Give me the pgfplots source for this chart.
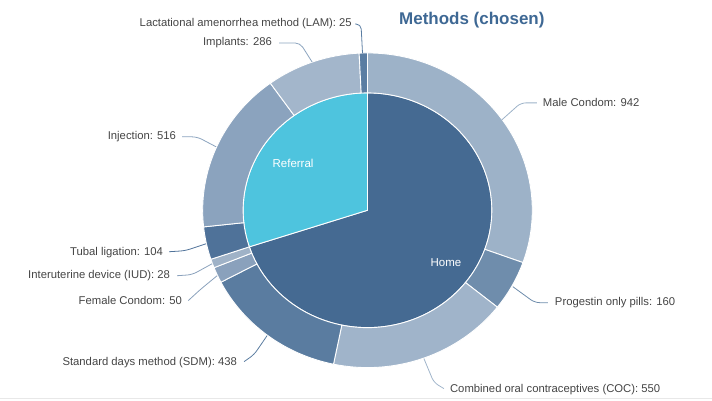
\documentclass[border=0pt]{standalone}
\usepackage{pgfplots}
\pgfplotsset{compat=1.18}
\usepackage{fontspec}
\setmainfont{Liberation Sans}

\definecolor{home}{RGB}{69,106,146}
\definecolor{referral}{RGB}{78,196,222}
\definecolor{cMC}{RGB}{157,178,200}
\definecolor{cPOP}{RGB}{111,141,172}
\definecolor{cCOC}{RGB}{160,180,202}
\definecolor{cSDM}{RGB}{90,124,160}
\definecolor{cFC}{RGB}{138,161,188}
\definecolor{cIUD}{RGB}{159,178,199}
\definecolor{cTL}{RGB}{79,114,153}
\definecolor{cINJ}{RGB}{139,163,190}
\definecolor{cIMP}{RGB}{163,182,203}
\definecolor{cLAM}{RGB}{90,125,162}
\definecolor{lblgray}{RGB}{68,68,68}
\definecolor{titleblue}{RGB}{62,104,148}

% geometry (pixel-like axis units, y downwards)
\def\cx{367.5}\def\cy{210.5}
\def\rxo{165}\def\ryo{157.5}
\def\rxi{124.5}\def\ryi{117.5}
\def\total{3099}

\def\pcum{0}
\newcommand{\pieseg}[2]{% value, colour
  \pgfmathsetmacro\ta{90-(\pcum/\total)*360}%
  \pgfmathsetmacro\newcum{\pcum+#1}%
  \xdef\pcum{\newcum}%
  \pgfmathsetmacro\tb{90-(\pcum/\total)*360}%
  \pgfmathsetmacro\xa{\cx+\rxi*cos(\ta)}%
  \pgfmathsetmacro\ya{\cy-\ryi*sin(\ta)}%
  \edef\temp{\noexpand\filldraw[fill=#2,draw=white,line width=0.9pt,line join=round]
    (axis cs:\cx,\cy) -- (axis cs:\xa,\ya)
    arc[start angle=\ta,end angle=\tb,x radius=\rxi pt,y radius=\ryi pt] -- cycle;}%
  \temp}

\def\rcum{0}
\newcommand{\ringseg}[2]{% value, colour
  \pgfmathsetmacro\ta{90-(\rcum/\total)*360}%
  \pgfmathsetmacro\newcum{\rcum+#1}%
  \xdef\rcum{\newcum}%
  \pgfmathsetmacro\tb{90-(\rcum/\total)*360}%
  \pgfmathsetmacro\xa{\cx+\rxo*cos(\ta)}%
  \pgfmathsetmacro\ya{\cy-\ryo*sin(\ta)}%
  \pgfmathsetmacro\xb{\cx+\rxi*cos(\tb)}%
  \pgfmathsetmacro\yb{\cy-\ryi*sin(\tb)}%
  \edef\temp{\noexpand\filldraw[fill=#2,draw=white,line width=0.9pt,line join=round]
    (axis cs:\xa,\ya)
    arc[start angle=\ta,end angle=\tb,x radius=\rxo pt,y radius=\ryo pt]
    -- (axis cs:\xb,\yb)
    arc[start angle=\tb,end angle=\ta,x radius=\rxi pt,y radius=\ryi pt] -- cycle;}%
  \temp}

\begin{document}
\begin{tikzpicture}
\begin{axis}[
  scale only axis, width=712pt, height=401pt,
  xmin=0, xmax=712, ymin=0, ymax=401, y dir=reverse,
  hide axis, clip=false,
]
\path (rel axis cs:0,0) rectangle (rel axis cs:1,1);
\draw[color={rgb,255:red,232;green,232;blue,232}, line width=0.8pt] (axis cs:0,399) -- (axis cs:712,399);

% inner pie: Home, Referral
\pieseg{2168}{home}
\pieseg{931}{referral}

% outer ring
\ringseg{942}{cMC}
\ringseg{160}{cPOP}
\ringseg{550}{cCOC}
\ringseg{438}{cSDM}
\ringseg{50}{cFC}
\ringseg{28}{cIUD}
\ringseg{104}{cTL}
\ringseg{516}{cINJ}
\ringseg{286}{cIMP}
\ringseg{25}{cLAM}

% connectors
\begin{scope}[line width=0.8pt, rounded corners=5pt]
\draw[cLAM] (axis cs:355,24) -- (axis cs:361,24) -- (axis cs:362.5,53);
\draw[cINJ] (axis cs:279,43) -- (axis cs:300,43) -- (axis cs:312,62);
\draw[cMC] (axis cs:537,103) -- (axis cs:521,103) -- (axis cs:502,120);
\draw[cINJ] (axis cs:182,137) -- (axis cs:197,137) -- (axis cs:216,147);
\draw[cTL] (axis cs:169,252) -- (axis cs:185,251) -- (axis cs:206,244);
\draw[cFC] (axis cs:177,276) -- (axis cs:192,275) -- (axis cs:212,264);
\draw[cFC] (axis cs:188,301) -- (axis cs:200,290) -- (axis cs:217,276);
\draw[cSDM] (axis cs:244,362) -- (axis cs:254,355) -- (axis cs:267,336);
\draw[cPOP] (axis cs:548,303) -- (axis cs:535,303) -- (axis cs:513,287);
\draw[cCOC] (axis cs:444,389) -- (axis cs:434,383) -- (axis cs:424,359);
\end{scope}

% labels
\begin{scope}[every node/.style={text=lblgray, inner sep=0pt, font=\fontsize{11.3}{13}\selectfont}]
\node[anchor=east] at (axis cs:352,24) {Lactational amenorrhea method (LAM): 25};
\node[anchor=east] at (axis cs:272,43) {Implants: 286};
\node[anchor=west] at (axis cs:543,103) {Male Condom: 942};
\node[anchor=east] at (axis cs:176,137) {Injection: 516};
\node[anchor=east] at (axis cs:163,253) {Tubal ligation: 104};
\node[anchor=east] at (axis cs:170,276) {Interuterine device (IUD): 28};
\node[anchor=east] at (axis cs:182,301) {Female Condom: 50};
\node[anchor=east] at (axis cs:237,363) {Standard days method (SDM): 438};
\node[anchor=west] at (axis cs:555,303) {Progestin only pills: 160};
\node[anchor=west] at (axis cs:450,390) {Combined oral contraceptives (COC): 550};
\end{scope}

\node[text=white, font=\fontsize{11.5}{13}\selectfont] at (axis cs:446,263) {Home};
\node[text=white, font=\fontsize{11.5}{13}\selectfont] at (axis cs:293,164) {Referral};
\node[text=titleblue, font=\fontsize{17}{20}\selectfont\bfseries] at (axis cs:472,20) {Methods (chosen)};
\end{axis}
\end{tikzpicture}
\end{document}
